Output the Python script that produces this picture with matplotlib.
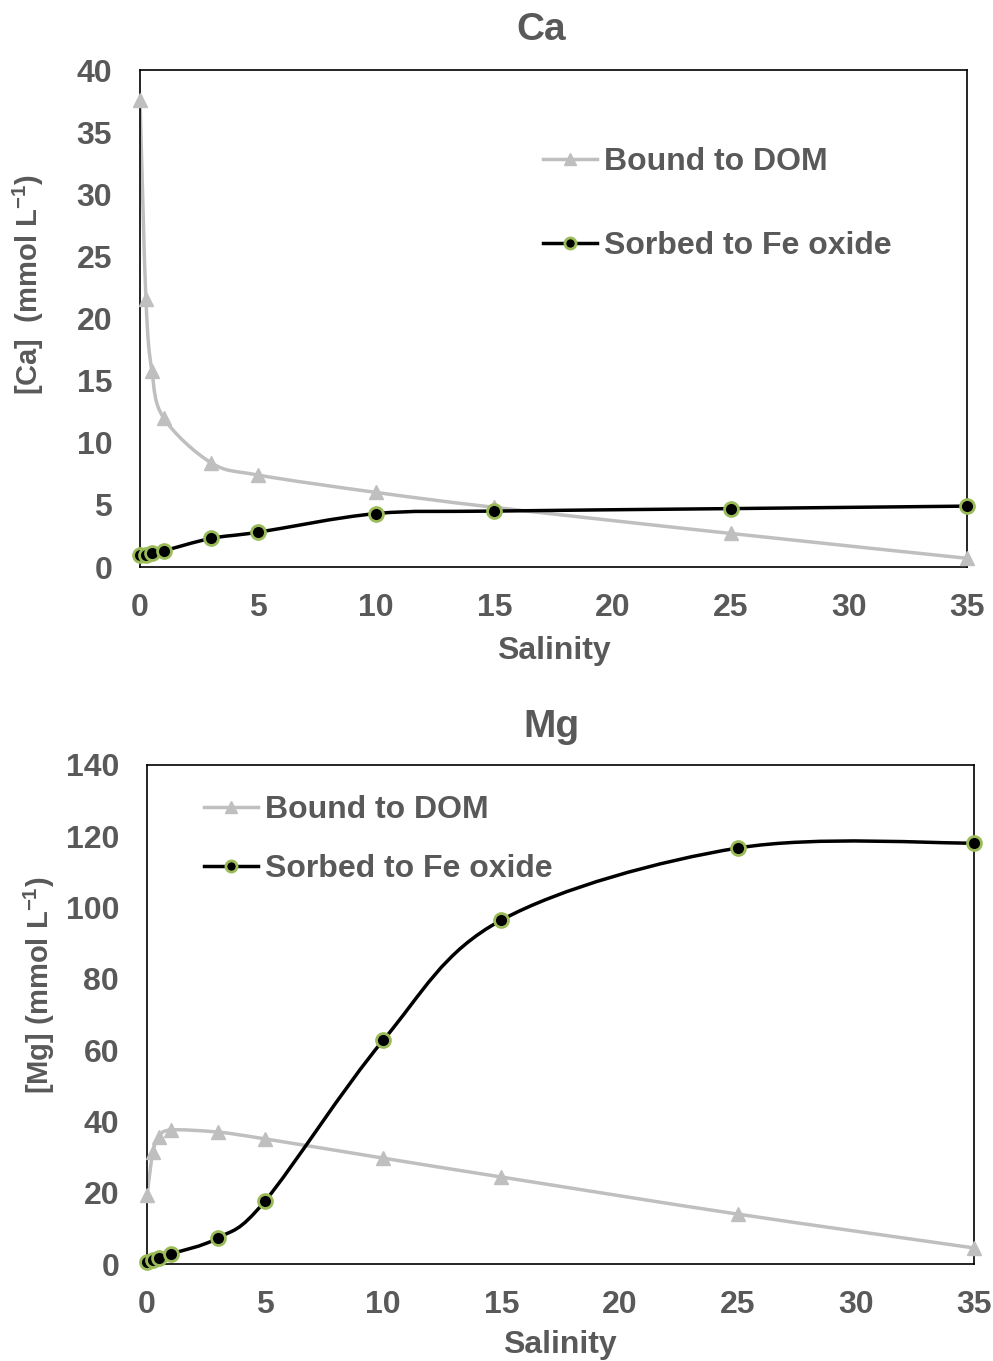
import numpy as np
import matplotlib
matplotlib.use("Agg")
import matplotlib.pyplot as plt
from matplotlib.path import Path
from matplotlib.patches import PathPatch
from matplotlib.lines import Line2D

plt.rcParams['font.family'] = ['Liberation Sans', 'DejaVu Sans']
plt.rcParams['font.weight'] = 'bold'
plt.rcParams['mathtext.fontset'] = 'custom'
plt.rcParams['mathtext.rm'] = 'Liberation Sans:bold'
plt.rcParams['mathtext.bf'] = 'Liberation Sans:bold'

# Data
salinity = [0, 0.25, 0.5, 1, 3, 5, 10, 15, 25, 35]
ca_dom = [37.6, 21.6, 15.8, 12.0, 8.4, 7.4, 6.0, 4.8, 2.7, 0.7]
ca_fe = [1.0, 1.0, 1.1, 1.3, 2.3, 2.8, 4.3, 4.5, 4.7, 4.9]
mg_dom = [19.4, 31.4, 35.6, 37.6, 37.0, 35.1, 29.7, 24.4, 14.0, 4.5]
mg_fe = [0.6, 1.0, 1.7, 2.8, 7.3, 17.7, 62.8, 96.5, 116.7, 118.1]

x_ticks = [0, 5, 10, 15, 20, 25, 30, 35]
ca_yticks = [0, 5, 10, 15, 20, 25, 30, 35, 40]
mg_yticks = [0, 20, 40, 60, 80, 100, 120, 140]

TXT = '#595959'
GRAY = '#BFBFBF'
GREEN = '#9BBB59'
FS = 23


def smooth_path(x, y):
    # Catmull-Rom style bezier, like Excel smoothed lines
    p = np.column_stack([x, y]).astype(float)
    verts = [p[0]]
    codes = [Path.MOVETO]
    n = len(p)
    for i in range(n - 1):
        p0 = p[i - 1] if i > 0 else p[i]
        p3 = p[i + 2] if i + 2 < n else p[i + 1]
        c1 = p[i] + (p[i + 1] - p0) / 6.0
        c2 = p[i + 1] - (p3 - p[i]) / 6.0
        verts += [c1, c2, p[i + 1]]
        codes += [Path.CURVE4] * 3
    return Path(verts, codes)


def draw_panel(ax, dom, fe, ymax, yticks):
    ax.add_patch(PathPatch(smooth_path(salinity, dom), fill=False,
                           edgecolor=GRAY, lw=2.5, zorder=2))
    ax.plot(salinity, dom, ls='none', marker='^', ms=10, color=GRAY,
            mec=GRAY, zorder=3, clip_on=False)
    ax.add_patch(PathPatch(smooth_path(salinity, fe), fill=False,
                           edgecolor='black', lw=2.5, zorder=4))
    ax.plot(salinity, fe, ls='none', marker='o', ms=10, color='black',
            mec=GREEN, mew=2, zorder=5, clip_on=False)
    ax.set_xlim(0, 35)
    ax.set_ylim(0, ymax)
    ax.set_xticks(x_ticks)
    ax.set_yticks(yticks)
    ax.tick_params(length=0, labelsize=FS, labelcolor=TXT)
    ax.tick_params(axis='x', pad=19)
    ax.tick_params(axis='y', pad=20)
    for lab in ax.get_xticklabels() + ax.get_yticklabels():
        lab.set_fontweight('bold')
    for s in ax.spines.values():
        s.set_linewidth(1.2)
        s.set_color('black')


fig = plt.figure(figsize=(9.93, 13.61), dpi=100)

ax1 = fig.add_axes([140 / 993, 1 - 567 / 1361, 827 / 993, 497 / 1361])
draw_panel(ax1, ca_dom, ca_fe, 40, ca_yticks)
ax2 = fig.add_axes([147 / 993, 1 - 1264 / 1361, 827 / 993, 499 / 1361])
draw_panel(ax2, mg_dom, mg_fe, 140, mg_yticks)

# titles and axis labels
fig.text(541 / 993, 1 - 30 / 1361, 'Ca', ha='center', va='center',
         fontsize=28, color=TXT, fontweight='bold')
fig.text(551 / 993, 1 - 727 / 1361, 'Mg', ha='center', va='center',
         fontsize=28, color=TXT, fontweight='bold')
fig.text(554 / 993, 1 - 651 / 1361, 'Salinity', ha='center', va='center',
         fontsize=FS, color=TXT, fontweight='bold')
fig.text(560 / 993, 1 - 1345 / 1361, 'Salinity', ha='center', va='center',
         fontsize=FS, color=TXT, fontweight='bold')
fig.text(28 / 993, 1 - 285 / 1361, '[Ca]  (mmol L$^{\\mathbf{-1}}$)', ha='center',
         va='center', rotation=90, fontsize=21, color=TXT, fontweight='bold')
fig.text(39 / 993, 1 - 985 / 1361, '[Mg] (mmol L$^{\\mathbf{-1}}$)', ha='center',
         va='center', rotation=90, fontsize=21, color=TXT, fontweight='bold')

# legends
handles = [
    Line2D([], [], color=GRAY, lw=2.5, marker='^', ms=8, mec=GRAY),
    Line2D([], [], color='black', lw=2.5, marker='o', ms=8, mfc='black',
           mec=GREEN, mew=2),
]
labels = ['Bound to DOM', 'Sorbed to Fe oxide']
leg_kw = dict(loc='center left', frameon=False, bbox_transform=fig.transFigure,
              prop={'size': FS, 'weight': 'bold'}, labelcolor=TXT,
              handlelength=1.7, handletextpad=0.2, borderpad=0, borderaxespad=0)
ax1.legend(handles, labels, bbox_to_anchor=(543 / 993, 1 - 204 / 1361),
           labelspacing=1.68, **leg_kw)
ax2.legend(handles, labels, bbox_to_anchor=(204 / 993, 1 - 839.5 / 1361),
           labelspacing=0.9, **leg_kw)

fig.savefig('out.png', dpi=100)
